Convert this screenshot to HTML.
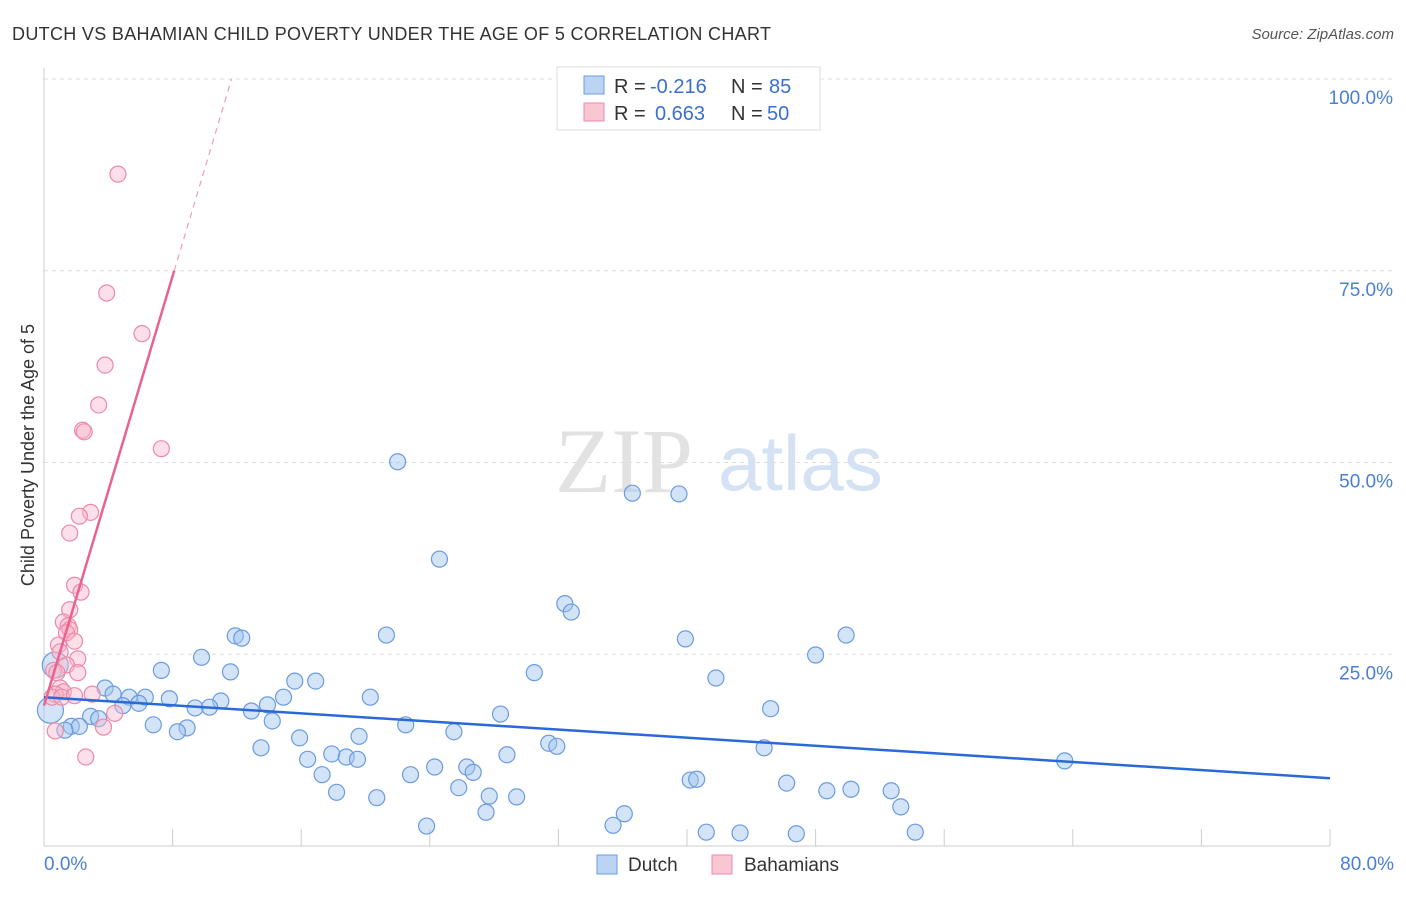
<!DOCTYPE html>
<html><head><meta charset="utf-8"><style>
body{margin:0;background:#fff;font-family:"Liberation Sans",sans-serif;}
</style></head><body>
<svg width="1406" height="892" xmlns="http://www.w3.org/2000/svg" style="font-family:'Liberation Sans',sans-serif">
<text x="12" y="40" font-size="18" fill="#333" textLength="759">DUTCH VS BAHAMIAN CHILD POVERTY UNDER THE AGE OF 5 CORRELATION CHART</text>
<text x="1394" y="39" font-size="15" fill="#555" text-anchor="end" font-style="italic">Source: ZipAtlas.com</text>
<g id="grid"></g>
<g><text x="555" y="492" font-size="92" fill="#e2e2e2" font-family="Liberation Serif">ZIP</text><text x="718" y="490" font-size="78" fill="#d4e2f4">atlas</text></g>
<g id="axes"></g>
<g id="pts"></g>
<g id="lines"></g>
<text transform="translate(34,455) rotate(-90)" font-size="18" fill="#333" text-anchor="middle">Child Poverty Under the Age of 5</text>
<g>
<rect x="557" y="67" width="263" height="63" fill="#fff" stroke="#ddd"/>
<rect x="584" y="76" width="20" height="18" fill="#bcd4f4" stroke="#6a9be0"/>
<rect x="584" y="103" width="20" height="18" fill="#f9c6d4" stroke="#ec8aa8"/>
<text x="614" y="93" font-size="20" fill="#333">R =</text>
<text x="650" y="93" font-size="20" fill="#3a6fd0">-0.216</text>
<text x="731" y="93" font-size="20" fill="#333">N =</text>
<text x="769" y="93" font-size="20" fill="#3a6fd0">85</text>
<text x="614" y="120" font-size="20" fill="#333">R =</text>
<text x="655" y="120" font-size="20" fill="#3a6fd0">0.663</text>
<text x="731" y="120" font-size="20" fill="#333">N =</text>
<text x="767" y="120" font-size="20" fill="#3a6fd0">50</text>
</g>
<g>
<rect x="597" y="855" width="20" height="19" fill="#bcd4f4" stroke="#6a9be0"/>
<text x="628" y="871" font-size="19" fill="#333">Dutch</text>
<rect x="712" y="855" width="20" height="19" fill="#f9c6d4" stroke="#ec8aa8"/>
<text x="744" y="871" font-size="19" fill="#333">Bahamians</text>
</g>
</svg>
<script>
const yTicks=[25,50,75,100];
const yTickLabels=["25.0%","50.0%","75.0%","100.0%"];
const xTickLabels=["0.0%","80.0%"];
const dutchX=[22.0,36.6,39.5,24.6,32.4,32.8,11.9,12.3,21.3,39.9,49.9,48.0,9.8,7.3,11.6,30.5,41.8,15.6,16.9,3.8,4.3,5.3,6.3,7.8,14.9,20.3,11.0,5.9,4.9,9.4,10.3,13.9,12.9,45.2,28.4,2.9,3.4,14.2,6.8,8.9,22.5,8.3,1.7,2.2,1.3,25.5,15.9,19.6,31.4,31.9,13.5,44.8,17.9,18.8,19.5,16.4,28.8,63.5,24.3,26.3,26.7,22.8,17.3,40.2,40.6,46.2,25.8,18.2,27.7,29.4,48.7,50.2,52.7,20.7,53.3,36.1,27.5,35.4,23.8,41.2,43.3,46.8,54.2,0.4,0.7];
const dutchY=[50.1,46.0,45.9,37.4,31.6,30.5,27.4,27.1,27.5,27.0,27.5,24.9,24.6,22.9,22.7,22.6,21.9,21.5,21.5,20.6,19.8,19.4,19.4,19.2,19.4,19.4,18.9,18.6,18.3,18.0,18.1,18.4,17.6,17.9,17.2,16.9,16.6,16.3,15.8,15.4,15.8,14.9,15.6,15.6,15.1,14.9,14.1,14.3,13.4,13.0,12.8,12.8,12.0,11.6,11.3,11.3,11.9,11.1,10.3,10.3,9.6,9.3,9.3,8.6,8.7,8.2,7.6,7.0,6.5,6.4,7.2,7.4,7.2,6.3,5.1,4.2,4.4,2.7,2.6,1.8,1.7,1.6,1.8,17.7,23.6];
const bahX=[4.6,3.9,6.1,3.8,3.4,2.4,2.5,7.3,2.9,2.2,1.6,1.9,2.3,1.6,1.2,1.5,1.6,1.4,1.9,0.9,1.0,2.1,1.4,0.6,0.8,2.1,1.0,1.2,0.7,0.5,1.1,3.0,1.9,4.4,3.7,0.7,2.6];
const bahY=[87.6,72.1,66.8,62.7,57.5,54.2,54.0,51.8,43.5,43.0,40.8,34.0,33.1,30.8,29.2,28.7,28.2,27.8,26.7,26.2,25.3,24.4,23.6,22.9,22.6,22.6,20.6,20.1,19.8,19.4,19.4,19.8,19.6,17.3,15.5,15.0,11.6];
const dutchFit=[19.4,-0.132];
const bahFit=[18.3,7.0];
const NS="http://www.w3.org/2000/svg";
const sx=v=>44+v*16.075, sy=v=>846-v*7.67;
function mk(t,a,p){const e=document.createElementNS(NS,t);for(const k in a)e.setAttribute(k,a[k]);p.appendChild(e);return e;}
const grid=document.getElementById('grid'),axes=document.getElementById('axes'),pts=document.getElementById('pts'),lines=document.getElementById('lines');
yTicks.forEach((v,i)=>{
 const l=mk('line',{x1:44,x2:1394,y1:sy(v),y2:sy(v),stroke:'#ddd','stroke-dasharray':'4,4'},grid);
 
 
 const t=mk('text',{x:1393,y:sy(v)+25,'font-size':19,fill:'#4a7fd6','text-anchor':'end'},axes);
 t.textContent=yTickLabels[i];
 
 
});
mk('line',{x1:44,x2:44,y1:68,y2:846,stroke:'#ccc'},axes);
mk('line',{x1:44,x2:1330,y1:846,y2:846,stroke:'#ccc'},axes);
for(let i=0;i<=10;i++){mk('line',{x1:sx(i*8),x2:sx(i*8),y1:829,y2:846,stroke:'#ccc'},axes);}
[[0,'start',44],[1,'end',1394]].forEach(([i,a,x])=>{const t=mk('text',{x:x,y:870,'font-size':19,fill:'#4a7fd6','text-anchor':a},axes);t.textContent=xTickLabels[i];
 
 });
dutchX.forEach((x,i)=>{const c=mk('circle',{cx:sx(x),cy:sy(dutchY[i]),r:i>=83?13:8,fill:'rgba(160,195,240,0.45)',stroke:'#6a9be0','stroke-width':1.2},pts);
 
 });
bahX.forEach((x,i)=>{const c=mk('circle',{cx:sx(x),cy:sy(bahY[i]),r:8,fill:'rgba(248,185,205,0.45)',stroke:'#ec8aa8','stroke-width':1.2},pts);
 
 });
let l=mk('line',{x1:sx(0),y1:sy(dutchFit[0]),x2:sx(80),y2:sy(dutchFit[0]+80*dutchFit[1]),stroke:'#2a6ad8','stroke-width':2.5},lines);


const xe=(75-bahFit[0])/bahFit[1], xe2=(100-bahFit[0])/bahFit[1];
l=mk('line',{x1:sx(0),y1:sy(bahFit[0]),x2:sx(xe),y2:sy(75),stroke:'#e8638f','stroke-width':2.5},lines);


l=mk('line',{x1:sx(xe),y1:sy(75),x2:sx(xe2),y2:sy(100),stroke:'#eaa0b8','stroke-width':1.2,'stroke-dasharray':'6,5'},lines);


</script>
</body></html>
